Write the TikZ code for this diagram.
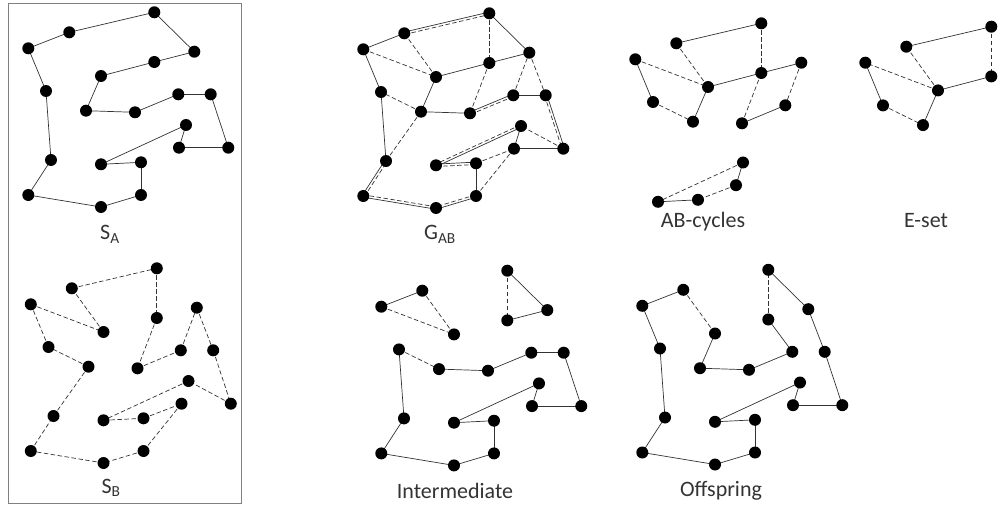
\documentclass[tikz,border=0pt]{standalone}
\usepackage{fontspec}
\setmainfont{Carlito}
\usetikzlibrary{calc}

\tikzset{
  city/.style={circle, fill=black, inner sep=0pt, minimum size=12pt},
  tourA/.style={line width=0.7pt, draw=black!80},
  tourB/.style={line width=0.7pt, draw=black!80, dash pattern=on 4.5pt off 2.5pt},
  plotname/.style={anchor=base, text=black!80, font=\fontsize{22}{26}\selectfont},
}

% city positions (same cities in every panel)
\newcommand{\towns}[1]{%
  \foreach \i/\x/\y in {1/154.3/12.3, 2/194.3/51.7, 3/154.3/62, 4/101/76,
      5/86/110.7, 6/135/112.3, 7/178.3/94.3, 8/210.7/94.3, 9/228.3/147.7,
      10/179/147.7, 11/186/125, 12/101/164.3, 13/141/162.3, 14/141/195,
      15/101/207, 16/28.3/195, 17/51/160, 18/46/91, 19/28.3/48.3, 20/69.3/32.3}
    {\coordinate (#1\i) at (\x,\y);}}
\newcommand{\putcities}[2]{\foreach \i in {#2}{\node[city] (#1c\i) at (#1\i) {};}}
\newcommand{\linksA}[2]{\foreach \p/\q in {#2}{\draw[tourA] (#1\p) -- (#1\q);}}
\newcommand{\linksB}[2]{\foreach \p/\q in {#2}{\draw[tourB] (#1\p) -- (#1\q);}}
\newcommand{\linksAB}[2]{\foreach \p/\q in {#2}{%
    \draw[tourA] ($(#1\p)!1.2pt!90:(#1\q)$) -- ($(#1\q)!1.2pt!-90:(#1\p)$);
    \draw[tourB] ($(#1\p)!1.2pt!-90:(#1\q)$) -- ($(#1\q)!1.2pt!90:(#1\p)$);}}

\begin{document}
\begin{tikzpicture}[x=1pt, y=-1pt]
    \useasboundingbox (0,0) rectangle (1002,508);

    % parent tours
    \draw[gray, line width=0.8pt] (8.5,3) rectangle (241.5,503.5);
    \begin{scope}
        \towns{sa}
        \linksA{sa}{1/2, 2/3, 3/4, 4/5, 5/6, 6/7, 7/8, 8/9, 9/10, 10/11,
            11/12, 12/13, 13/14, 14/15, 15/16, 16/17, 17/18, 18/19, 19/20, 20/1}
        \putcities{sa}{1,...,20}
    \end{scope}
    \node[plotname] (la) at (110,240) {S\textsubscript{A}};

    \begin{scope}[shift={(2.5,256)}]
        \towns{sb}
        \linksB{sb}{1/3, 3/6, 6/7, 7/2, 2/8, 8/9, 9/11, 11/12, 12/13, 13/10,
            10/14, 14/15, 15/16, 16/17, 17/5, 5/18, 18/19, 19/4, 4/20, 20/1}
        \putcities{sb}{1,...,20}
    \end{scope}
    \node[plotname] (lb) at (111,493) {S\textsubscript{B}};

    % union graph
    \begin{scope}[shift={(335,1)}]
        \towns{g}
        \linksA{g}{1/2, 2/3, 3/4, 4/5, 5/6, 7/8, 9/10, 10/11, 13/14, 17/18, 18/19, 19/20}
        \linksB{g}{1/3, 3/6, 7/2, 2/8, 9/11, 13/10, 10/14, 17/5, 5/18, 19/4, 4/20}
        \linksAB{g}{20/1, 6/7, 8/9, 11/12, 12/13, 14/15, 15/16, 16/17}
        \putcities{g}{1,...,20}
    \end{scope}
    \node[plotname] (lg) at (440,240) {G\textsubscript{AB}};

    % AB-cycles
    \begin{scope}[shift={(607,11)}]
        \towns{ca}
        \linksA{ca}{1/20, 19/18, 5/4, 4/3, 3/2, 7/6}
        \linksB{ca}{1/3, 20/4, 19/4, 18/5, 2/7, 6/3}
        \putcities{ca}{1,2,3,4,5,6,7,18,19,20}
    \end{scope}
    \begin{scope}[shift={(557,37.5)}]
        \towns{cb}
        \linksA{cb}{11/10, 13/12}
        \linksB{cb}{11/12, 10/13}
        \putcities{cb}{10,11,12,13}
    \end{scope}
    \node[plotname] (lc) at (703,227) {AB-cycles};

    % E-set
    \begin{scope}[shift={(837,14.4)}]
        \towns{e}
        \linksA{e}{1/20, 3/4, 19/18, 5/4}
        \linksB{e}{1/3, 4/20, 4/19, 18/5}
        \putcities{e}{1,3,4,5,18,19,20}
    \end{scope}
    \node[plotname] (le) at (926,227) {E-set};

    % intermediate solution
    \begin{scope}[shift={(353,258.4)}]
        \towns{m}
        \linksA{m}{20/19, 1/2, 2/3, 5/6, 6/7, 7/8, 8/9, 9/10, 10/11, 11/12,
            12/13, 13/14, 14/15, 15/16, 16/17, 17/18}
        \linksB{m}{20/4, 19/4, 1/3, 18/5}
        \putcities{m}{1,...,20}
    \end{scope}
    \node[plotname] (lm) at (455,498) {Intermediate};

    % offspring
    \begin{scope}[shift={(614,257.5)}]
        \towns{o}
        \linksA{o}{19/20, 4/5, 5/6, 6/7, 7/3, 1/2, 2/8, 8/9, 9/10, 10/11,
            11/12, 12/13, 13/14, 14/15, 15/16, 16/17, 17/18, 18/19}
        \linksB{o}{20/4, 3/1}
        \putcities{o}{1,...,20}
    \end{scope}
    \node[plotname] (lo) at (721,496) {Offspring};

\end{tikzpicture}
\end{document}
